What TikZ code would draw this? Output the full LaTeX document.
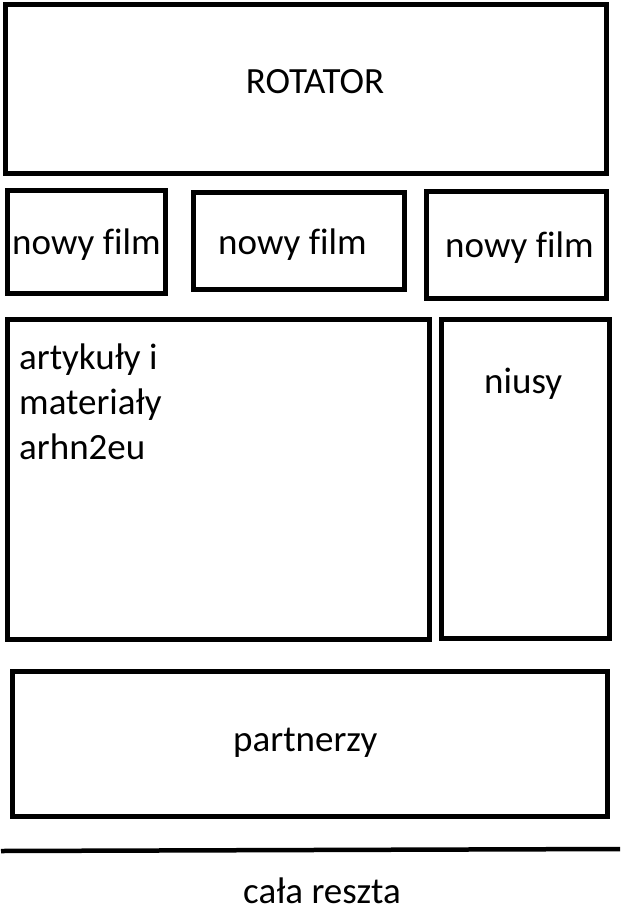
\documentclass[tikz,border=0pt]{standalone}
\usepackage{fontspec}
\setmainfont[Ligatures=NoCommon]{Carlito}
\begin{document}
\begin{tikzpicture}[x=1pt,y=-1pt,
  box/.style={draw=black,line width=5pt,rectangle,inner sep=0pt},
  lbl/.style={inner sep=0pt,anchor=base west,font=\fontsize{37}{45}\selectfont},
  rule/.style={line width=4.5pt}]
\useasboundingbox[fill=white] (0,0) rectangle (623,920);
% boxes
\node[box,minimum width=601pt,minimum height=169pt] (rot) at (306,89) {};
\node[box,minimum width=157.5pt,minimum height=103pt] (f1) at (86.25,242) {};
\node[box,minimum width=211pt,minimum height=97pt] (f2) at (299,241) {};
\node[box,minimum width=180pt,minimum height=107pt] (f3) at (516.5,245) {};
\node[box,minimum width=422pt,minimum height=320pt] (art) at (218.5,479.5) {};
\node[box,minimum width=168pt,minimum height=319pt] (niu) at (525.5,479) {};
\node[box,minimum width=595pt,minimum height=145pt] (par) at (310,744) {};
% texts
\node[lbl,anchor=base] (trot) at (315,94) {ROTATOR};
\node[lbl] (tf1) at (12,254) {nowy film};
\node[lbl] (tf2) at (218,254) {nowy film};
\node[lbl] (tf3) at (445,257) {nowy film};
\node[lbl,align=left,anchor=north west] (tart) at (19,344) {artykuły i\\materiały\\arhn2eu};
\node[lbl] (tniu) at (484,393) {niusy};
\node[lbl] (tpar) at (233,751) {partnerzy};
\node[lbl] (tres) at (243,903) {cała reszta};
% separator line
\coordinate (l1) at (1,851);
\coordinate (l2) at (620,849);
\draw[rule] (l1) -- (l2);
\end{tikzpicture}
\end{document}
